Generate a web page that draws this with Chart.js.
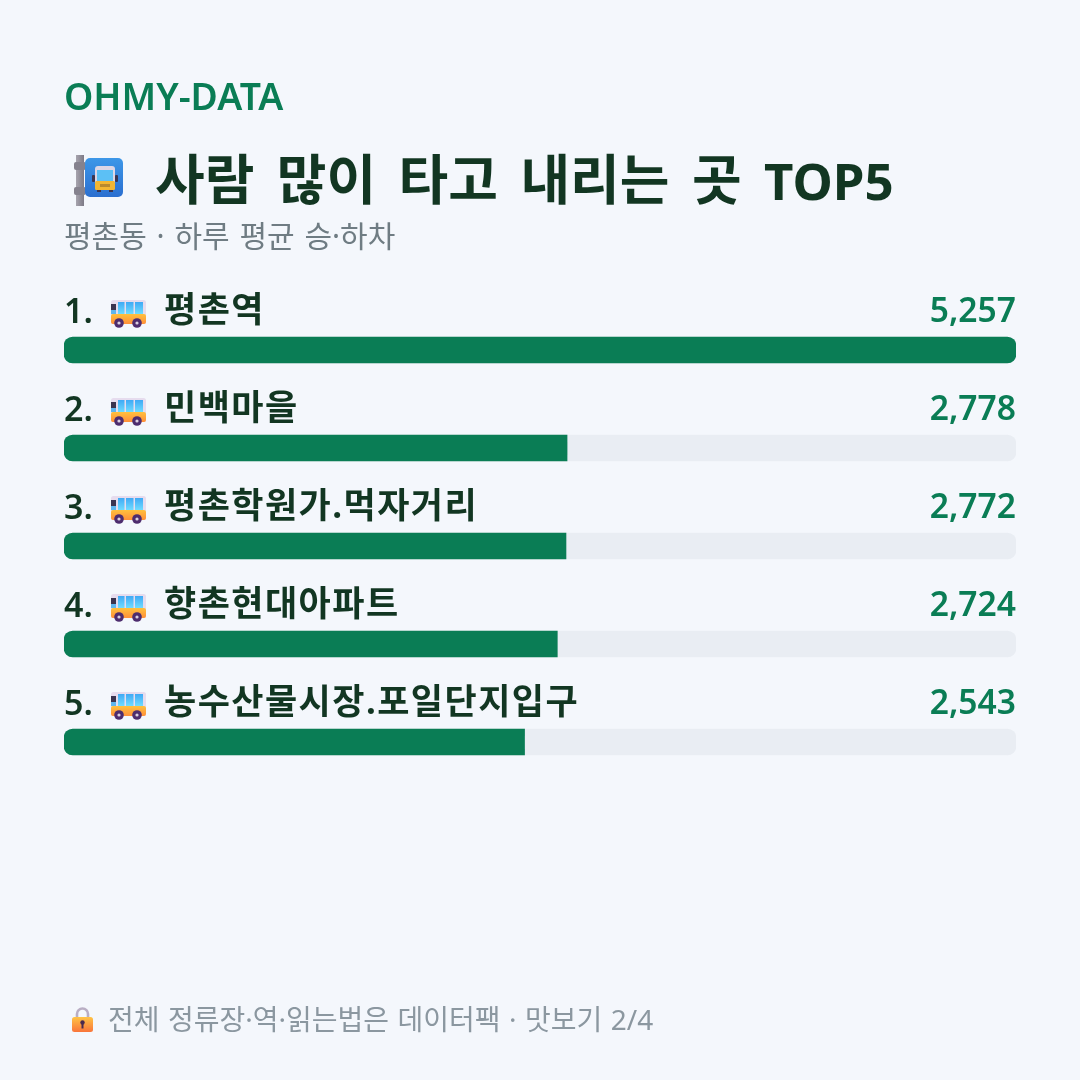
<!DOCTYPE html>
<html lang="ko">
<head>
<meta charset="utf-8">
<title>사람 많이 타고 내리는 곳 TOP5</title>
<script src="https://cdn.jsdelivr.net/npm/chart.js@4/dist/chart.umd.js"></script>
<style>
    html, body { margin: 0; padding: 0; background: #f4f7fc; }
    body { position: relative; width: 1080px; height: 1080px; overflow: hidden;
           font-family: "Noto Sans", "Noto Sans CJK KR", sans-serif; }
    #bars { position: absolute; left: 0; top: 0; }
    .txt { position: absolute; white-space: pre; line-height: 1; }
    .icon { position: absolute; }
    #brand { left: 64px; top: 77px; font-size: 37.3px; font-weight: 600; color: #0a7d55; }
    #title { left: 155px; top: 152px; font-size: 54px; font-weight: 700; color: #123622; word-spacing: 8.4px; }
    #title span { font-size: 51px; }
    #sub { left: 64px; top: 221px; font-size: 30px; color: #6f7c83; word-spacing: 2px; }
    #foot { left: 108px; top: 1005px; font-size: 28px; color: #8b97a0; word-spacing: 1.2px; }
    .rank { font-size: 34px; font-weight: 600; color: #123622; }
    .name { font-size: 35px; font-weight: 700; color: #123622; letter-spacing: 1.45px; }
    .val { font-size: 33.6px; font-weight: 600; color: #0a7d55; right: 64px; }
</style>
</head>
<body>
<svg width="0" height="0" style="position:absolute">
    <defs>
        <linearGradient id="busBody" x1="0" y1="0" x2="0" y2="1">
            <stop offset="0" stop-color="#ffc13d"/><stop offset="1" stop-color="#ff8f3a"/>
        </linearGradient>
        <linearGradient id="busGlass" x1="0" y1="0" x2="0" y2="1">
            <stop offset="0" stop-color="#3fa9f5"/><stop offset="1" stop-color="#6fdcff"/>
        </linearGradient>
        <linearGradient id="signBlue" x1="0" y1="0" x2="0" y2="1">
            <stop offset="0" stop-color="#3d97e8"/><stop offset="1" stop-color="#2a6fd0"/>
        </linearGradient>
        <linearGradient id="pole" x1="0" y1="0" x2="1" y2="0">
            <stop offset="0" stop-color="#a7a4ae"/><stop offset="1" stop-color="#7d7a86"/>
        </linearGradient>
        <linearGradient id="lockBody" x1="0" y1="0" x2="0" y2="1">
            <stop offset="0" stop-color="#ffc445"/><stop offset="1" stop-color="#f9743a"/>
        </linearGradient>
        <symbol id="bus" viewBox="0 0 35 28">
            <rect x="0" y="0" width="35" height="24" rx="2.5" fill="#e6dcee"/>
            <rect x="0" y="4" width="5" height="6" fill="#3a3450"/>
            <rect x="0" y="10" width="5" height="4" fill="#5fb6ee"/>
            <rect x="7" y="2" width="6.5" height="12" fill="url(#busGlass)"/>
            <rect x="15" y="2" width="7.5" height="12" fill="url(#busGlass)"/>
            <rect x="24" y="2" width="8" height="12" fill="url(#busGlass)"/>
            <rect x="0" y="14" width="35" height="10" rx="2" fill="url(#busBody)"/>
            <circle cx="8" cy="23" r="4.8" fill="#4d2c6e"/><circle cx="8" cy="23" r="1.6" fill="#d9cfe0"/>
            <circle cx="26" cy="23" r="4.8" fill="#4d2c6e"/><circle cx="26" cy="23" r="1.6" fill="#d9cfe0"/>
        </symbol>
    </defs>
</svg>
<canvas id="bars" width="1080" height="1080"></canvas>

<div class="txt" id="brand">OHMY-DATA</div>
<svg class="icon" style="left:74px;top:155px" width="50" height="51" viewBox="0 0 50 51">
    <rect x="2" y="0" width="8" height="51" fill="url(#pole)"/>
    <rect x="0" y="7" width="12" height="8" rx="2" fill="#85828e"/>
    <rect x="0" y="32" width="12" height="8" rx="2" fill="#85828e"/>
    <rect x="11" y="3" width="38" height="39" rx="5" fill="url(#signBlue)"/>
    <rect x="18" y="20" width="3" height="7" rx="1" fill="#3a3450"/>
    <rect x="41" y="20" width="3" height="7" rx="1" fill="#3a3450"/>
    <rect x="21" y="11" width="20" height="24" rx="3" fill="#dcd6e6"/>
    <rect x="23" y="15" width="16" height="11" fill="#5cc0f5"/>
    <rect x="21" y="26" width="20" height="9" rx="1.5" fill="#f2b632"/>
    <rect x="26" y="29" width="10" height="3" fill="#b98a2e"/>
    <rect x="23" y="35" width="4" height="2" fill="#3a3450"/>
    <rect x="35" y="35" width="4" height="2" fill="#3a3450"/>
</svg>
<div class="txt" id="title">사람 많이 타고 내리는 곳 <span>TOP5</span></div>
<div class="txt" id="sub">평촌동 · 하루 평균 승·하차</div>
<svg class="icon" style="left:72px;top:1007px" width="21" height="25" viewBox="0 0 21 25">
    <path d="M5 11V7a5.5 5.5 0 0 1 11 0v4" fill="none" stroke="#b9aec4" stroke-width="2.6"/>
    <rect x="0" y="10" width="21" height="15" rx="2.5" fill="url(#lockBody)"/>
    <circle cx="10.5" cy="15.5" r="2.2" fill="#4a2a4e"/><rect x="9.5" y="16" width="2" height="5.5" fill="#4a2a4e"/>
</svg>
<div class="txt" id="foot">전체 정류장·역·읽는법은 데이터팩 · 맛보기 2/4</div>

<script>
// 승·하차 상위 5곳
const stops = ['평촌역', '민백마을', '평촌학원가.먹자거리', '향촌현대아파트', '농수산물시장.포일단지입구'];
const riders = [5257, 2778, 2772, 2724, 2543];
const axisMax = 5257;
const trackValues = [5257, 5257, 5257, 5257, 5257];

const GREEN = '#0a7d55';
const TRACK = '#e9edf3';
const RADIUS = 9;

// 막대 위 라벨은 스케일 위치를 따라 HTML로 올린다
const rowLabels = {
    id: 'rowLabels',
    afterRender(chart) {
        if (document.querySelector('.rank')) return;
        const yScale = chart.scales.y;
        stops.forEach((name, i) => {
            const top = yScale.getPixelForValue(i) - 13;
            addText('rank', (i + 1) + '.', 64, top - 44);
            addText('name', name, 164, top - 46);
            addText('val', riders[i].toLocaleString('en-US'), null, top - 44);

            const svg = document.createElementNS('http://www.w3.org/2000/svg', 'svg');
            svg.setAttribute('class', 'icon');
            svg.setAttribute('width', 35);
            svg.setAttribute('height', 28);
            svg.style.left = '111px';
            svg.style.top = (top - 37) + 'px';
            const use = document.createElementNS('http://www.w3.org/2000/svg', 'use');
            use.setAttribute('href', '#bus');
            svg.appendChild(use);
            document.body.appendChild(svg);
        });
    }
};

function addText(cls, text, left, top) {
    const el = document.createElement('div');
    el.className = 'txt ' + cls;
    el.textContent = text;
    if (left !== null) el.style.left = left + 'px';
    el.style.top = top + 'px';
    document.body.appendChild(el);
    return el;
}

// 꽉 찬 막대만 오른쪽까지 둥글게, 나머지는 오른쪽 끝이 각지다
function fillRadius(ctx) {
    if (ctx.raw >= axisMax) return RADIUS;
    return { topLeft: RADIUS, bottomLeft: RADIUS, topRight: 0, bottomRight: 0 };
}

new Chart(document.getElementById('bars'), {
    type: 'bar',
    data: {
        labels: stops,
        datasets: [
            { data: riders, backgroundColor: GREEN, grouped: false, order: 1, barThickness: 26, borderRadius: fillRadius, borderSkipped: false },
            { data: trackValues, backgroundColor: TRACK, grouped: false, order: 2, barThickness: 26, borderRadius: RADIUS, borderSkipped: false }
        ]
    },
    options: {
        indexAxis: 'y',
        responsive: false,
        animation: false,
        layout: { padding: { left: 64, right: 64, top: 301, bottom: 289 } },
        scales: {
            x: { display: false, min: 0, max: axisMax },
            y: { display: false }
        },
        plugins: { legend: { display: false }, tooltip: { enabled: false } }
    },
    plugins: [rowLabels]
});
</script>
</body>
</html>
